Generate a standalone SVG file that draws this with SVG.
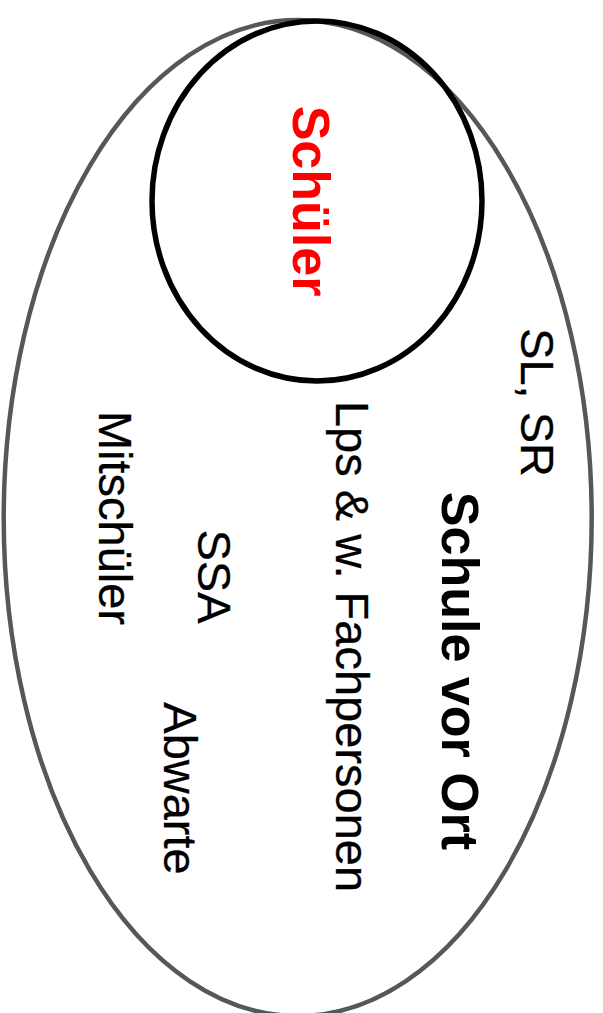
<svg xmlns="http://www.w3.org/2000/svg" width="603" height="1013" viewBox="0 0 603 1013">
  <style>
    .lbl { font-family: "Liberation Sans", Arial, sans-serif; font-size: 47px; fill: #000; text-anchor: middle; stroke: #000; stroke-width: 0.3; }
    .bold { font-family: "Liberation Sans", Arial, sans-serif; font-size: 52px; font-weight: bold; text-anchor: middle; }
  </style>
  <rect width="603" height="1013" fill="#ffffff"/>
  <g id="schule-vor-ort">
    <ellipse cx="297.7" cy="518" rx="294" ry="498" fill="none" stroke="#535858" stroke-width="4.5"/>
    <text class="bold" fill="#000" transform="translate(442,671) rotate(90)">Schule vor Ort</text>
    <text class="lbl" transform="translate(521,402.5) rotate(90)">SL, SR</text>
    <text class="lbl" transform="translate(336,646.5) rotate(90)">Lps &amp; w. Fachpersonen</text>
    <text class="lbl" transform="translate(198,576.5) rotate(90)">SSA</text>
    <text class="lbl" transform="translate(164,788.5) rotate(90)">Abwarte</text>
    <text class="lbl" transform="translate(99,518) rotate(90)">Mitschüler</text>
  </g>
  <g id="schueler">
    <ellipse cx="317" cy="201" rx="165" ry="180" fill="none" stroke="#000" stroke-width="5.5"/>
    <text class="bold" fill="#ff0000" transform="translate(293,201) rotate(90)">Schüler</text>
  </g>
  <g id="connectors"></g>
</svg>
